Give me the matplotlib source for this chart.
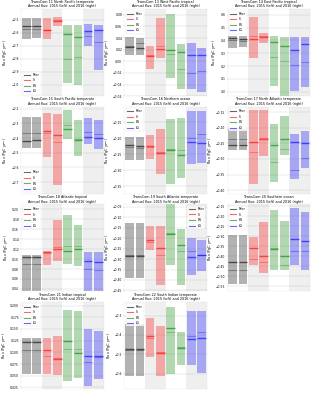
import matplotlib
matplotlib.use('Agg')
import matplotlib.pyplot as plt

# region titles
regions = ['TransCom 11 North Pacific temperate', 'TransCom 13 West Pacific tropical',
           'TransCom 14 East Pacific tropical', 'TransCom 15 South Pacific temperate',
           'TransCom 16 Northern ocean', 'TransCom 17 North Atlantic temperate',
           'TransCom 18 Atlantic tropical', 'TransCom 19 South Atlantic temperate',
           'TransCom 20 Southern ocean', 'TransCom 21 Indian tropical',
           'TransCom 22 South Indian temperate']
groups = ['Prior', 'IS', 'LN', 'LG']
colors = ['k', 'r', 'g', 'b']

# per region: 8 values = Prior15, Prior16, IS15, IS16, LN15, LN16, LG15, LG16
lo = [
    [-0.645, -0.64, -0.65, -0.547, -0.99, -1.0, -0.705, -0.888],
    [0.011, 0.0115, -0.0127, 0.0063, -0.028, -0.047, -0.047, -0.0536],
    [0.341, 0.349, 0.266, 0.377, 0.044, -0.06, 0.003, 0.039],
    [-0.47, -0.47, -0.528, -0.72, -0.407, -0.523, -0.442, -0.474],
    [-0.269, -0.269, -0.263, -0.31, -0.343, -0.323, -0.279, -0.276],
    [-0.272, -0.27, -0.379, -0.29, -0.373, -0.287, -0.365, -0.33],
    [0.03, 0.03, 0.088, 0.097, 0.09, 0.086, 0.025, 0.028],
    [-0.392, -0.392, -0.258, -0.425, -0.33, -0.425, -0.375, -0.355],
    [-0.539, -0.539, -0.444, -0.483, -0.469, -0.469, -0.444, -0.469],
    [0.054, 0.054, 0.054, 0.052, 0.038, 0.045, 0.0286, 0.043],
    [-0.614, -0.614, -0.515, -0.614, -0.602, -0.555, -0.556, -0.596],
]
hi = [
    [-0.49, -0.49, -0.49, -0.475, -0.539, -0.54, -0.53, -0.54],
    [0.0427, 0.041, 0.0265, 0.0738, 0.0807, 0.029, 0.031, 0.0225],
    [0.437, 0.437, 0.579, 0.457, 0.431, 0.424, 0.426, 0.424],
    [-0.256, -0.256, -0.23, -0.237, -0.209, -0.279, -0.265, -0.274],
    [-0.195, -0.195, -0.19, -0.17, -0.138, -0.137, -0.114, -0.114],
    [-0.204, -0.204, -0.142, -0.143, -0.189, -0.161, -0.219, -0.209],
    [0.109, 0.109, 0.117, 0.179, 0.189, 0.169, 0.114, 0.114],
    [-0.129, -0.129, -0.142, -0.142, -0.033, -0.154, -0.197, -0.207],
    [-0.291, -0.291, -0.305, -0.23, -0.169, -0.224, -0.158, -0.179],
    [0.131, 0.131, 0.131, 0.134, 0.19, 0.1885, 0.15, 0.146],
    [-0.342, -0.342, -0.314, -0.355, -0.253, -0.383, -0.276, -0.276],
]
mean = [
    [-0.545, -0.545, -0.578, -0.508, -0.611, -0.634, -0.59, -0.58],
    [0.0248, 0.0236, 0.0092, 0.0219, 0.019, 0.016, 0.0115, 0.0104],
    [0.416, 0.413, 0.411, 0.426, 0.385, 0.357, 0.326, 0.372],
    [-0.421, -0.416, -0.349, -0.379, -0.34, -0.416, -0.395, -0.402],
    [-0.22, -0.224, -0.223, -0.245, -0.237, -0.253, -0.211, -0.215],
    [-0.255, -0.255, -0.244, -0.236, -0.255, -0.237, -0.246, -0.25],
    [0.105, 0.105, 0.114, 0.121, 0.116, 0.12, 0.096, 0.094],
    [-0.283, -0.283, -0.207, -0.246, -0.18, -0.231, -0.289, -0.279],
    [-0.43, -0.43, -0.36, -0.399, -0.366, -0.399, -0.313, -0.326],
    [0.1225, 0.1225, 0.104, 0.0867, 0.124, 0.099, 0.093, 0.093],
    [-0.472, -0.472, -0.404, -0.494, -0.364, -0.468, -0.42, -0.414],
]
other = [
    [-0.573, -0.572, -0.575, -0.505, -0.80, -0.784, -0.625, -0.672],
    [0.027, 0.031, 0.011, 0.0265, 0.012, -0.0138, -0.0196, -0.0167],
    [0.40, 0.398, 0.437, 0.434, 0.269, 0.238, 0.209, 0.23],
    [-0.363, -0.363, -0.367, -0.426, -0.314, -0.407, -0.358, -0.372],
    [-0.228, -0.229, -0.226, -0.241, -0.234, -0.236, -0.199, -0.186],
    [-0.235, -0.236, -0.278, -0.233, -0.311, -0.268, -0.336, -0.296],
    [0.091, 0.091, 0.112, 0.125, 0.127, 0.127, 0.08, 0.078],
    [-0.279, -0.279, -0.216, -0.278, -0.176, -0.259, -0.263, -0.281],
    [-0.469, -0.469, -0.413, -0.43, -0.357, -0.444, -0.375, -0.375],
    [0.105, 0.105, 0.092, 0.088, 0.1075, 0.1075, 0.08, 0.0896],
    [-0.477, -0.477, -0.416, -0.489, -0.383, -0.463, -0.406, -0.383],
]
ylims = [(-1.09, -0.417), (-0.06, 0.09), (-0.034, 0.644), (-0.78, -0.186),
         (-0.373, -0.101), (-0.412, -0.132), (0.035, 0.21), (-0.455, -0.037),
         (-0.577, -0.139), (0.0214, 0.208), (-0.68, -0.229)]
legend_loc = ['lower left', 'upper left', 'upper left', 'lower left', 'upper left',
              'upper left', 'upper left', 'upper right', 'upper left', 'upper left',
              'upper left']

fig, axes = plt.subplots(4, 3, figsize=(16, 19.65), dpi=20)
fig.subplots_adjust(left=0.066, right=0.969, top=0.977, bottom=0.01,
                    wspace=0.25, hspace=0.12)
axes = axes.flatten()
width = 0.83

for i, name in enumerate(regions):
    ax = axes[i]
    ax.axvspan(1.5, 3.5, color='gray', alpha=0.12, lw=0)
    ax.axvspan(5.5, 7.5, color='gray', alpha=0.12, lw=0)
    for j in range(8):
        c = colors[j // 2]
        ax.bar(j, hi[i][j] - lo[i][j], bottom=lo[i][j], width=width,
               color=c, alpha=0.3, lw=0)
        ax.hlines(other[i][j], j - width / 2, j + width / 2, color=c, alpha=0.3, lw=4)
        ax.hlines(mean[i][j], j - width / 2, j + width / 2, color=c, alpha=0.6, lw=5)
    for g, c in zip(groups, colors):
        ax.plot([], [], color=c, alpha=0.6, lw=4, label=g)
    ax.legend(loc=legend_loc[i], fontsize=11)
    ax.set_xlim(-0.5, 7.5)
    ax.set_ylim(*ylims[i])
    ax.set_xticks([])
    ax.grid(axis='y', color='lightgray', lw=1.5)
    ax.set_axisbelow(True)
    for s in ax.spines.values():
        s.set_color('lightgray')
    ax.tick_params(axis='y', labelsize=11, length=4, color='gray')
    ax.set_ylabel('Flux (PgC yr$^{-1}$)', fontsize=12)
    ax.set_title(name + '\nAnnual flux: 2015 (left) and 2016 (right)', fontsize=12)

axes[11].axis('off')

plt.savefig('out.png', dpi=20)
